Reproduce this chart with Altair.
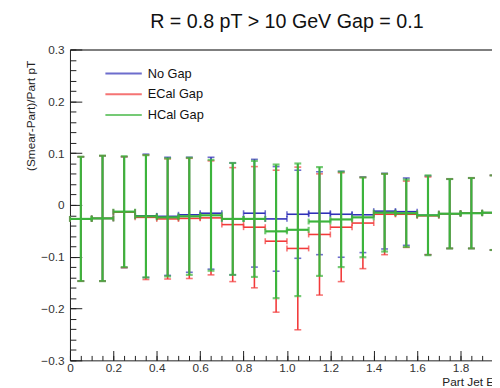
import altair as alt
import pandas as pd

# ---------------- data ----------------
BIN_CENTERS = [0.05, 0.15, 0.25, 0.35, 0.45, 0.55, 0.65, 0.75, 0.85, 0.95,
               1.05, 1.15, 1.25, 1.35, 1.45, 1.55, 1.65, 1.75, 1.85, 1.95]
BIN_HALF = 0.05

SERIES = ["No Gap", "ECal Gap", "HCal Gap"]
COLORS = ["#3030b8", "#f23a3a", "#3cb43c"]
WIDTHS = [1.6, 1.6, 2.2]

NOGAP_MEAN = [-0.027, -0.026, -0.014, -0.021, -0.022, -0.019, -0.016, -0.027, -0.016, -0.027,
              -0.018, -0.016, -0.018, -0.019, -0.012, -0.013, -0.020, -0.017, -0.016, -0.015]
NOGAP_ERR = [0.120, 0.121, 0.107, 0.119, 0.114, 0.111, 0.108, 0.108, 0.104, 0.101,
             0.085, 0.080, 0.083, 0.073, 0.073, 0.065, 0.076, 0.067, 0.068, 0.072]

ECAL_MEAN = [-0.027, -0.026, -0.014, -0.024, -0.027, -0.026, -0.025, -0.038, -0.043, -0.070,
             -0.084, -0.057, -0.043, -0.035, -0.018, -0.018, -0.021, -0.017, -0.016, -0.015]
ECAL_ERR = [0.120, 0.121, 0.107, 0.120, 0.116, 0.116, 0.110, 0.110, 0.117, 0.137,
            0.157, 0.117, 0.105, 0.088, 0.078, 0.064, 0.075, 0.067, 0.068, 0.072]

HCAL_MEAN = [-0.027, -0.026, -0.013, -0.022, -0.024, -0.022, -0.020, -0.027, -0.027, -0.051,
             -0.048, -0.032, -0.028, -0.024, -0.015, -0.016, -0.020, -0.017, -0.016, -0.015]
HCAL_ERR = [0.120, 0.121, 0.107, 0.118, 0.114, 0.113, 0.107, 0.108, 0.112, 0.129,
            0.128, 0.105, 0.092, 0.077, 0.075, 0.065, 0.077, 0.067, 0.068, 0.072]

TITLE = "R = 0.8 pT > 10 GeV Gap = 0.1"
X_TITLE = "Part Jet Energy"
Y_TITLE = "(Smear-Part)/Part pT"

X_DOMAIN = [0, 1.945]
Y_DOMAIN = [-0.3, 0.3]
X_MAJOR = [0, 0.2, 0.4, 0.6, 0.8, 1.0, 1.2, 1.4, 1.6, 1.8]
X_MINOR = [round(i * 0.05, 2) for i in range(39)]
Y_MAJOR = [-0.3, -0.2, -0.1, 0, 0.1, 0.2, 0.3]
Y_MINOR = [round(-0.3 + i * 0.02, 2) for i in range(31)]

rows = []
for name, means, errs in zip(SERIES, [NOGAP_MEAN, ECAL_MEAN, HCAL_MEAN],
                             [NOGAP_ERR, ECAL_ERR, HCAL_ERR]):
    for c, m, e in zip(BIN_CENTERS, means, errs):
        rows.append(dict(series=name, x=c, xlo=c - BIN_HALF, xhi=c + BIN_HALF,
                         y=m, lo=m - e, hi=m + e))
df = pd.DataFrame(rows)

# ---------------- styling ----------------
FONT = "Liberation Sans"
AX = "#1e1e1e"

xs = alt.Scale(domain=X_DOMAIN, nice=False, zero=False)
ys = alt.Scale(domain=Y_DOMAIN, nice=False, zero=False)
cs = alt.Scale(domain=SERIES, range=COLORS)

LABEL_EXPR = "datum.value == 0 ? '0' : format(datum.value, '.1f')"

common = dict(grid=False, labelFont=FONT, labelFontSize=12, labelColor="#333333",
              tickColor=AX, tickWidth=1, domainColor=AX, labelFlush=False,
              labelBound=False, labelOverlap=False)

x_major = alt.Axis(orient="bottom", offset=-10, tickSize=10, values=X_MAJOR, domain=False,
                   labelExpr=LABEL_EXPR, labelPadding=2, title=None, **common)
x_minor = alt.Axis(orient="bottom", offset=-5, tickSize=5, values=X_MINOR, domain=False,
                   labels=False, title=None, **common)
x_frame = alt.Axis(orient="bottom", ticks=False, labels=False, domain=True, domainWidth=1,
                   title=X_TITLE, titleX=378, titleY=17, titleAlign="left",
                   titleBaseline="top", titleFont=FONT, titleFontSize=12,
                   titleFontWeight="normal", titleColor="#222222", **common)
x_top = alt.Axis(orient="top", ticks=False, labels=False, domain=True, domainWidth=1.3,
                 title=None, grid=False, domainColor="#555555")

y_major = alt.Axis(orient="left", offset=-12, tickSize=12, values=Y_MAJOR, domain=False,
                   labelExpr=LABEL_EXPR, labelPadding=6, title=None, **common)
y_minor = alt.Axis(orient="left", offset=-6, tickSize=6, values=Y_MINOR, domain=False,
                   labels=False, title=None, **common)
y_frame = alt.Axis(orient="left", ticks=False, labels=False, domain=True, domainWidth=1,
                   title=Y_TITLE, titleAngle=270, titleX=-40.5, titleY=11,
                   titleAlign="right", titleBaseline="middle", titleFont=FONT,
                   titleFontSize=12, titleFontWeight="normal", titleColor="#222222",
                   **common)

base = alt.Chart(df)


def axis_layer(xaxis, yaxis):
    return base.mark_point(opacity=0).encode(
        x=alt.X("x:Q", scale=xs, axis=xaxis),
        y=alt.Y("y:Q", scale=ys, axis=yaxis),
    )


layers = [
    axis_layer(x_major, y_major),
    axis_layer(x_minor, y_minor),
    axis_layer(x_frame, y_frame),
    axis_layer(x_top, None),
]

legend = alt.Legend(orient="none", legendX=44, legendY=14, title=None,
                    symbolType="M-2,0H2", symbolSize=342, symbolStrokeWidth=2,
                    labelFont=FONT, labelFontSize=13, labelColor="#111111",
                    labelOffset=14, padding=0, rowPadding=3)

for i, name in enumerate(SERIES):
    lw = WIDTHS[i]
    s = base.transform_filter(alt.datum.series == name)
    col = alt.Color("series:N", scale=cs, legend=legend if i == 0 else None)
    vrule = s.mark_rule(strokeWidth=lw).encode(
        x=alt.X("x:Q", scale=xs, axis=None),
        y=alt.Y("lo:Q", scale=ys, axis=None),
        y2="hi:Q", color=col)
    hrule = s.mark_rule(strokeWidth=lw).encode(
        x=alt.X("xlo:Q", scale=xs, axis=None), x2="xhi:Q",
        y=alt.Y("y:Q", scale=ys, axis=None), color=col)
    vcaps = s.transform_fold(["lo", "hi"], as_=["k", "v"]).mark_tick(
        orient="horizontal", size=7, thickness=lw).encode(
        x=alt.X("x:Q", scale=xs, axis=None),
        y=alt.Y("v:Q", scale=ys, axis=None), color=col)
    hcaps = s.transform_fold(["xlo", "xhi"], as_=["k", "v"]).mark_tick(
        orient="vertical", size=6, thickness=lw).encode(
        x=alt.X("v:Q", scale=xs, axis=None),
        y=alt.Y("y:Q", scale=ys, axis=None), color=col)
    layers += [vrule, hrule, vcaps, hcaps]

chart = alt.layer(*layers).properties(
    width=429, height=316,
    padding={"left": 63, "top": 39, "right": 0, "bottom": 30},
    autosize=alt.AutoSizeParams(type="none"),
    title=alt.TitleParams(TITLE, font=FONT, fontSize=20, fontWeight="normal",
                          anchor="middle", frame="group", baseline="alphabetic",
                          offset=-4, dx=6, color="#111111"),
).resolve_axis(x="independent", y="independent").configure_view(stroke=None)

chart.save("out.html", embed_options={"renderer": "svg", "actions": False})
